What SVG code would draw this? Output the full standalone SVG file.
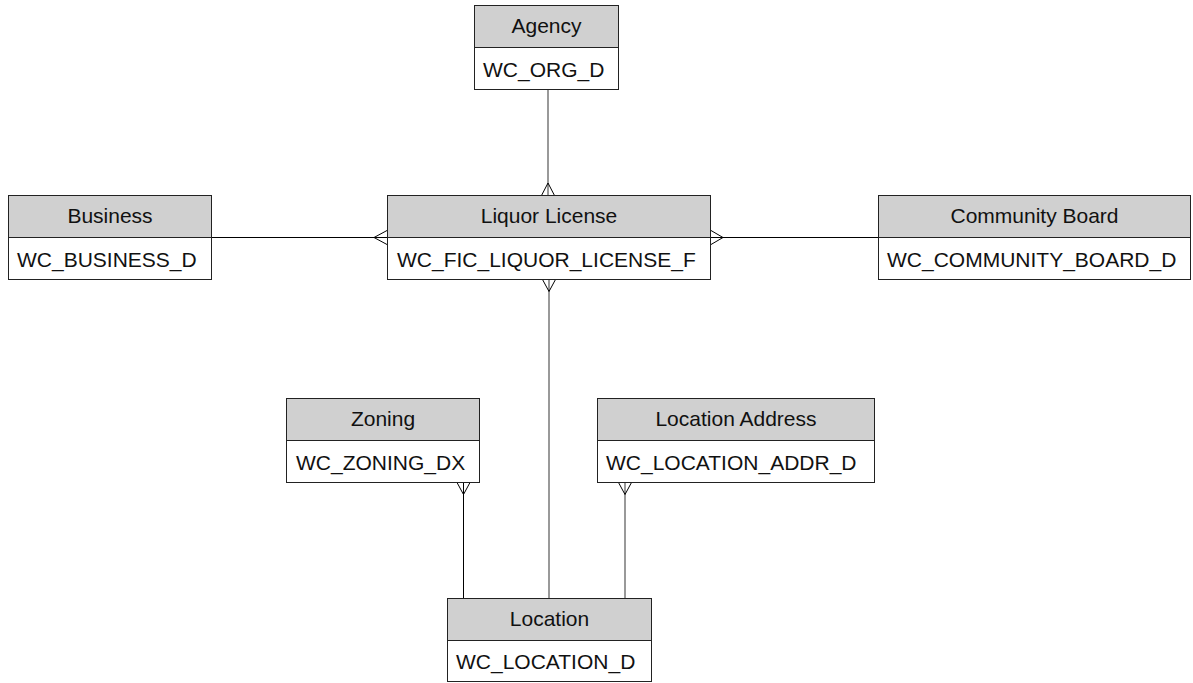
<svg xmlns="http://www.w3.org/2000/svg" width="1193" height="683" viewBox="0 0 1193 683">
<style>
.hd{fill:#d0d0d0;stroke:#222;stroke-width:1}
.bd{fill:#fff;stroke:#222;stroke-width:1}
.t{font-family:"Liberation Sans",Arial,sans-serif;font-size:21px;fill:#111}
.c{text-anchor:middle}
.ln{stroke:#000;stroke-width:1;fill:none}
.gl{stroke:#555;stroke-width:1.2;fill:none}
</style>
<rect width="1193" height="683" fill="#fff"/>
<g id="connectors">
<path class="gl" d="M548 90V195"/>
<path class="ln" d="M541.5 195.5L548 183L554.5 195.5"/>
<path class="ln" d="M212 237.5H387"/>
<path class="ln" d="M387 230.5L374 237.5L387 244.5"/>
<path class="ln" d="M711 237.5H878"/>
<path class="ln" d="M711 230.5L723 237.5L711 244.5"/>
<path class="gl" d="M549 279V598"/>
<path class="ln" d="M542.5 279.5L549 291.5L555.5 279.5"/>
<path class="ln" d="M463.5 482V598"/>
<path class="ln" d="M457 482.5L463.5 494.5L470 482.5"/>
<path class="gl" d="M625 482V598"/>
<path class="ln" d="M618.5 482.5L625 494.5L631.5 482.5"/>
</g>
<g id="agency">
<rect class="hd" x="474.5" y="5.5" width="144" height="42"/>
<rect class="bd" x="474.5" y="47.5" width="144" height="42"/>
<text class="t c" x="546.5" y="33">Agency</text>
<text class="t" x="483" y="77">WC_ORG_D</text>
</g>
<g id="business">
<rect class="hd" x="8.5" y="195.5" width="203" height="42"/>
<rect class="bd" x="8.5" y="237.5" width="203" height="42"/>
<text class="t c" x="110" y="223">Business</text>
<text class="t" x="17" y="267">WC_BUSINESS_D</text>
</g>
<g id="liquor-license">
<rect class="hd" x="387.5" y="195.5" width="323" height="42"/>
<rect class="bd" x="387.5" y="237.5" width="323" height="42"/>
<text class="t c" x="549" y="223">Liquor License</text>
<text class="t" x="397" y="267">WC_FIC_LIQUOR_LICENSE_F</text>
</g>
<g id="community-board">
<rect class="hd" x="878.5" y="195.5" width="312" height="42"/>
<rect class="bd" x="878.5" y="237.5" width="312" height="42"/>
<text class="t c" x="1034.5" y="223">Community Board</text>
<text class="t" x="887" y="267">WC_COMMUNITY_BOARD_D</text>
</g>
<g id="zoning">
<rect class="hd" x="286.5" y="398.5" width="193" height="42"/>
<rect class="bd" x="286.5" y="440.5" width="193" height="42"/>
<text class="t c" x="383" y="426">Zoning</text>
<text class="t" x="296" y="470">WC_ZONING_DX</text>
</g>
<g id="location-address">
<rect class="hd" x="597.5" y="398.5" width="277" height="42"/>
<rect class="bd" x="597.5" y="440.5" width="277" height="42"/>
<text class="t c" x="736" y="426">Location Address</text>
<text class="t" x="606" y="470">WC_LOCATION_ADDR_D</text>
</g>
<g id="location">
<rect class="hd" x="447.5" y="598.5" width="204" height="42"/>
<rect class="bd" x="447.5" y="640.5" width="204" height="41"/>
<text class="t c" x="549.5" y="626">Location</text>
<text class="t" x="456" y="669">WC_LOCATION_D</text>
</g>
</svg>
